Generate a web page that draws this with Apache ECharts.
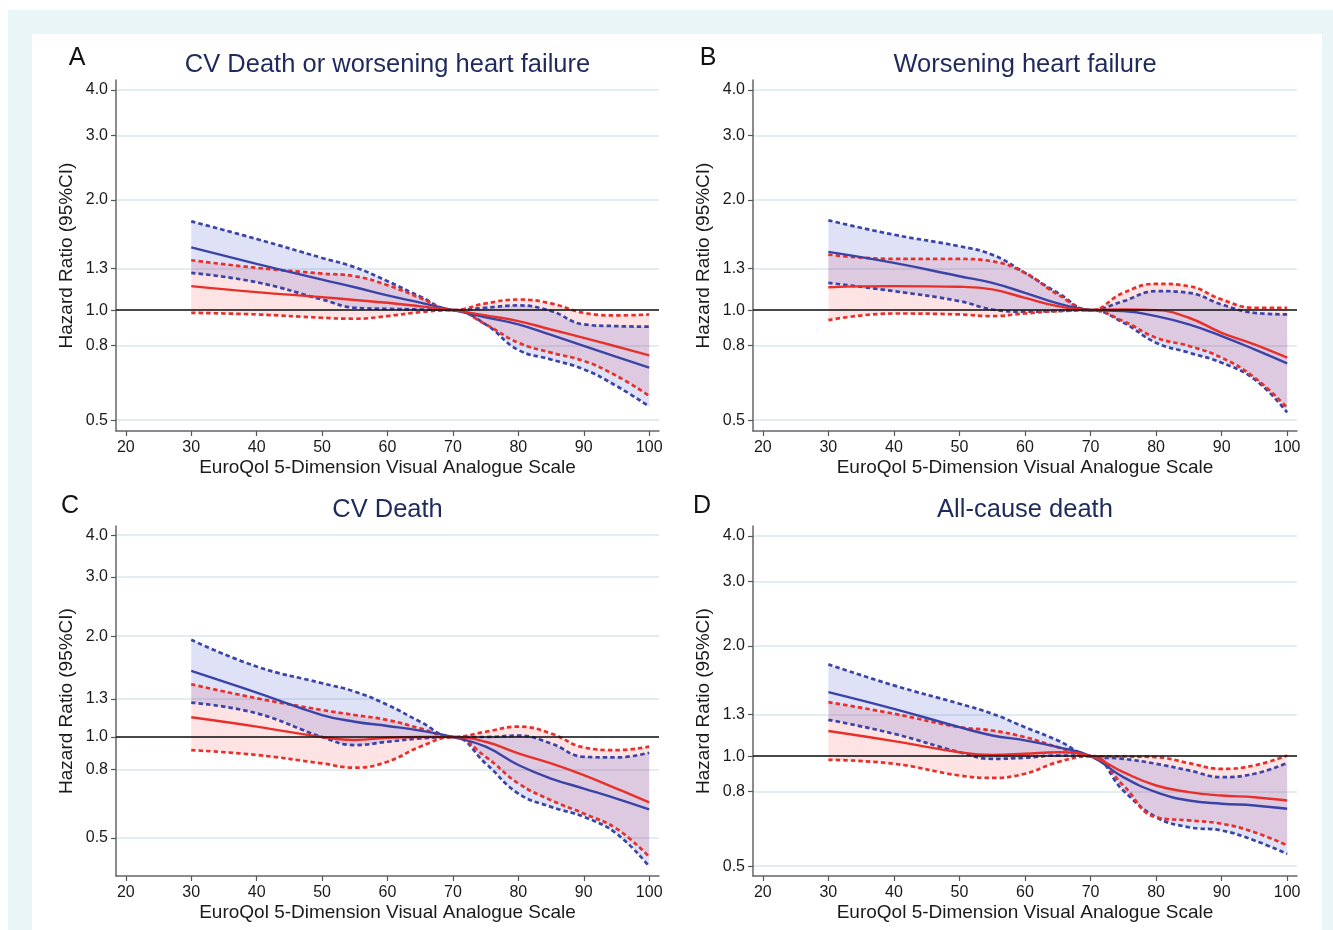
<!DOCTYPE html>
<html>
<head>
<meta charset="utf-8">
<script src="https://cdn.jsdelivr.net/npm/echarts@6/dist/echarts.min.js"></script>
<style>
html,body{margin:0;padding:0;background:#ffffff;}
#chart{width:1333px;height:930px;}
</style>
</head>
<body>
<div id="chart"></div>
<script>
// ---------- data ----------
const xValues = [30, 40, 50, 55, 60, 65, 70, 75, 80, 85, 90, 95, 100];
const xTicks = [20, 30, 40, 50, 60, 70, 80, 90, 100];
const yTicks = [0.5, 0.8, 1.0, 1.3, 2.0, 3.0, 4.0];
const panelLetters = ['A', 'B', 'C', 'D'];
const panelTitles = ['CV Death or worsening heart failure', 'Worsening heart failure', 'CV Death', 'All-cause death'];
const xAxisName = 'EuroQol 5-Dimension Visual Analogue Scale';
const yAxisName = 'Hazard Ratio (95%CI)';

// Panel A
const aBlueHR = [1.485, 1.338, 1.212, 1.155, 1.097, 1.048, 1.0, 0.956, 0.914, 0.855, 0.798, 0.745, 0.696];
const aBlueLo = [1.264, 1.192, 1.069, 1.015, 1.008, 1.004, 1.0, 0.914, 0.778, 0.733, 0.689, 0.620, 0.545];
const aBlueHi = [1.749, 1.565, 1.389, 1.310, 1.200, 1.090, 1.0, 1.015, 1.030, 0.994, 0.914, 0.904, 0.901];
const aRedHR  = [1.163, 1.120, 1.085, 1.066, 1.047, 1.024, 1.0, 0.967, 0.933, 0.885, 0.840, 0.795, 0.752];
const aRedLo  = [0.983, 0.973, 0.953, 0.947, 0.963, 0.987, 1.0, 0.914, 0.814, 0.765, 0.726, 0.661, 0.583];
const aRedHi  = [1.369, 1.305, 1.259, 1.238, 1.170, 1.080, 1.0, 1.043, 1.069, 1.043, 0.983, 0.967, 0.973];
// Panel B
const bBlueHR = [1.443, 1.346, 1.238, 1.187, 1.115, 1.043, 1.0, 0.994, 0.963, 0.914, 0.849, 0.781, 0.715];
const bBlueLo = [1.187, 1.127, 1.058, 1.004, 0.990, 0.994, 1.0, 0.924, 0.814, 0.765, 0.718, 0.647, 0.525];
const bBlueHi = [1.760, 1.608, 1.495, 1.418, 1.264, 1.115, 1.0, 1.058, 1.127, 1.115, 1.036, 0.983, 0.973];
const bRedHR  = [1.155, 1.163, 1.158, 1.139, 1.080, 1.025, 1.0, 1.004, 1.000, 0.953, 0.867, 0.806, 0.741];
const bRedLo  = [0.939, 0.979, 0.973, 0.963, 0.979, 0.994, 1.0, 0.933, 0.840, 0.798, 0.741, 0.654, 0.541];
const bRedHi  = [1.419, 1.380, 1.380, 1.360, 1.264, 1.103, 1.0, 1.115, 1.180, 1.163, 1.069, 1.015, 1.015];
// Panel C
const cBlueHR = [1.575, 1.357, 1.163, 1.111, 1.079, 1.045, 1.0, 0.936, 0.825, 0.752, 0.702, 0.655, 0.608];
const cBlueLo = [1.267, 1.177, 1.000, 0.946, 0.968, 0.990, 1.0, 0.834, 0.678, 0.619, 0.578, 0.515, 0.411];
const cBlueHi = [1.950, 1.623, 1.447, 1.366, 1.247, 1.111, 1.0, 1.000, 1.010, 0.957, 0.873, 0.869, 0.898];
const cRedHR  = [1.145, 1.074, 1.000, 0.980, 0.995, 1.000, 1.0, 0.968, 0.894, 0.834, 0.770, 0.702, 0.638];
const cRedLo  = [0.914, 0.884, 0.834, 0.810, 0.844, 0.936, 1.0, 0.873, 0.727, 0.648, 0.591, 0.533, 0.439];
const cRedHi  = [1.437, 1.305, 1.204, 1.163, 1.124, 1.061, 1.0, 1.037, 1.074, 1.025, 0.931, 0.914, 0.936];
// Panel D
const dBlueHR = [1.497, 1.347, 1.200, 1.139, 1.104, 1.058, 1.0, 0.876, 0.797, 0.756, 0.741, 0.733, 0.718];
const dBlueLo = [1.257, 1.151, 1.025, 0.983, 0.990, 1.004, 1.0, 0.805, 0.681, 0.639, 0.626, 0.588, 0.540];
const dBlueHi = [1.782, 1.561, 1.391, 1.306, 1.200, 1.104, 1.0, 0.983, 0.953, 0.914, 0.876, 0.895, 0.957];
const dRedHR  = [1.171, 1.099, 1.025, 1.008, 1.015, 1.025, 1.0, 0.904, 0.831, 0.797, 0.780, 0.772, 0.756];
const dRedLo  = [0.977, 0.953, 0.885, 0.872, 0.895, 0.963, 1.0, 0.831, 0.680, 0.667, 0.653, 0.619, 0.570];
const dRedHi  = [1.405, 1.306, 1.200, 1.175, 1.127, 1.058, 1.0, 0.998, 0.994, 0.957, 0.923, 0.943, 1.004];

const panelData = [
  {blue: {hr: aBlueHR, lo: aBlueLo, hi: aBlueHi}, red: {hr: aRedHR, lo: aRedLo, hi: aRedHi}},
  {blue: {hr: bBlueHR, lo: bBlueLo, hi: bBlueHi}, red: {hr: bRedHR, lo: bRedLo, hi: bRedHi}},
  {blue: {hr: cBlueHR, lo: cBlueLo, hi: cBlueHi}, red: {hr: cRedHR, lo: cRedLo, hi: cRedHi}},
  {blue: {hr: dBlueHR, lo: dBlueLo, hi: dBlueHi}, red: {hr: dRedHR, lo: dRedLo, hi: dRedHi}}
];

// ---------- layout / style ----------
const FONT = '"Liberation Sans", Arial, Helvetica, sans-serif';
// y axis is logarithmic: plotted value = ln(HR) + OFFSET (offset keeps stacked values positive)
const OFFSET = 2;
const Y = v => Math.log(v) + OFFSET;
const layout = [
  {left: 116, top: 80,  width: 543, height: 351, yMin: 0.467, yMax: 4.26, lx: 77,  ly: 58.5, tx: 387.5, ty: 65},
  {left: 753, top: 80,  width: 544, height: 351, yMin: 0.467, yMax: 4.26, lx: 708, ly: 58.5, tx: 1025,  ty: 65},
  {left: 116, top: 526, width: 543, height: 350, yMin: 0.385, yMax: 4.26, lx: 70,  ly: 506,  tx: 387.5, ty: 510},
  {left: 753, top: 526, width: 544, height: 350, yMin: 0.470, yMax: 4.26, lx: 702, ly: 506,  tx: 1025,  ty: 510}
];
const BLUE = '#3a43a6';
const RED = '#e8302a';
const BLUE_FILL = 'rgba(80,90,210,0.18)';
const RED_FILL = 'rgba(240,60,55,0.14)';
const SMOOTH = 0.45;
const DASH = [4.5, 3];

const yTickPos = yTicks.map(Y);
// data items are [yValue, xValue] so that the stacked dimension is the y value
const pts = arr => xValues.map((x, i) => [Y(arr[i]), x]);
const diff = (hi, lo) => xValues.map((x, i) => [Math.log(hi[i]) - Math.log(lo[i]), x]);
const ENC = {x: 1, y: 0};

const grids = [], xAxes = [], yAxes = [], series = [], graphics = [];

graphics.push({type: 'rect', z: -100, silent: true, shape: {x: 8, y: 10, width: 1325, height: 920}, style: {fill: '#e9f5f7'}});
graphics.push({type: 'rect', z: -99, silent: true, shape: {x: 32, y: 34, width: 1290, height: 896}, style: {fill: '#ffffff'}});

layout.forEach((L, i) => {
  grids.push({left: L.left, top: L.top, width: L.width, height: L.height});
  xAxes.push({
    type: 'value', gridIndex: i, min: 18.5, max: 101.5,
    name: xAxisName, nameLocation: 'middle', nameGap: 27,
    nameTextStyle: {fontFamily: FONT, fontSize: 19, color: '#1a1a1a'},
    axisLine: {show: true, onZero: false, lineStyle: {color: '#666', width: 1.5}},
    axisTick: {show: true, length: 5, customValues: xTicks, lineStyle: {color: '#555', width: 1.2}},
    axisLabel: {customValues: xTicks, margin: 9, fontFamily: FONT, fontSize: 16, color: '#1a1a1a'},
    splitLine: {show: false}
  });
  yAxes.push({
    type: 'value', gridIndex: i, min: Y(L.yMin), max: Y(L.yMax),
    name: yAxisName, nameLocation: 'middle', nameGap: 40,
    nameTextStyle: {fontFamily: FONT, fontSize: 19, color: '#1a1a1a'},
    axisLine: {show: true, onZero: false, lineStyle: {color: '#666', width: 1.5}},
    axisTick: {show: true, length: 5, customValues: yTickPos, lineStyle: {color: '#555', width: 1.2}},
    axisLabel: {customValues: yTickPos, margin: 8, fontFamily: FONT, fontSize: 16, color: '#1a1a1a',
      formatter: v => Math.exp(v - OFFSET).toFixed(1)},
    splitLine: {show: true, lineStyle: {color: '#e1edef', width: 2}}
  });

  const P = panelData[i];
  const base = {type: 'line', xAxisIndex: i, yAxisIndex: i, symbol: 'none', smooth: SMOOTH, silent: true, animation: false, encode: ENC};
  // bands (red first, blue over it)
  [['red', RED_FILL], ['blue', BLUE_FILL]].forEach(([k, fill]) => {
    series.push(Object.assign({}, base, {
      name: k + ' lo base', stack: k + i, z: 1,
      data: pts(P[k].lo), lineStyle: {width: 0}
    }));
    series.push(Object.assign({}, base, {
      name: k + ' band', stack: k + i, z: 1,
      data: diff(P[k].hi, P[k].lo), lineStyle: {width: 0},
      areaStyle: {color: fill, opacity: 1}
    }));
  });
  // dotted confidence limits
  [['blue', BLUE], ['red', RED]].forEach(([k, col]) => {
    ['lo', 'hi'].forEach(b => {
      series.push(Object.assign({}, base, {
        name: k + ' ' + b, z: 3, data: pts(P[k][b]),
        lineStyle: {color: col, width: 2.7, type: DASH, cap: 'butt'}
      }));
    });
  });
  // reference line at HR = 1
  series.push(Object.assign({}, base, {
    name: 'ref', z: 2, data: [],
    markLine: {silent: true, symbol: 'none', animation: false, label: {show: false},
      lineStyle: {color: '#111', width: 1.6, type: 'solid'}, data: [{yAxis: Y(1)}]}
  }));
  // point estimates
  [['blue', BLUE], ['red', RED]].forEach(([k, col]) => {
    series.push(Object.assign({}, base, {
      name: k + ' HR', z: 4, data: pts(P[k].hr),
      lineStyle: {color: col, width: 2.4}
    }));
  });

  graphics.push({type: 'text', x: L.lx, y: L.ly, silent: true, z: 10,
    style: {text: panelLetters[i], fontFamily: FONT, fontSize: 25, fill: '#111', align: 'center', verticalAlign: 'middle'}});
  graphics.push({type: 'text', x: L.tx, y: L.ty, silent: true, z: 10,
    style: {text: panelTitles[i], fontFamily: FONT, fontSize: 25.5, fill: '#1e2a5c', align: 'center', verticalAlign: 'middle'}});
});

const chart = echarts.init(document.getElementById('chart'), null, {renderer: 'canvas'});
chart.setOption({
  backgroundColor: 'transparent',
  animation: false,
  grid: grids,
  xAxis: xAxes,
  yAxis: yAxes,
  series: series,
  graphic: graphics
});
</script>
</body>
</html>
